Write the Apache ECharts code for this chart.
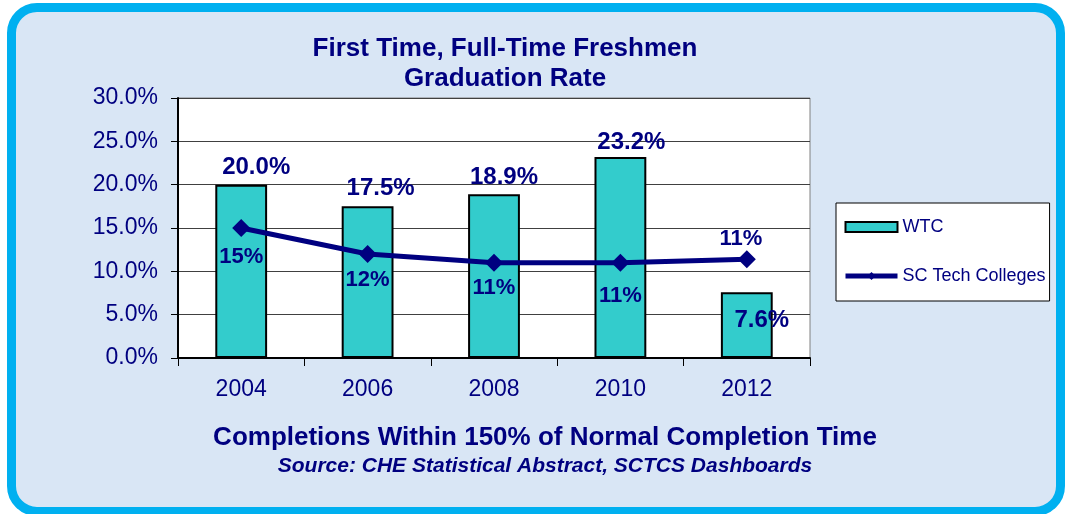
<!DOCTYPE html>
<html>
<head>
<meta charset="utf-8">
<script src="https://cdn.jsdelivr.net/npm/echarts@6/dist/echarts.min.js"></script>
<style>
  html, body { margin: 0; padding: 0; background: #ffffff; }
  #wrap { position: relative; width: 1065px; height: 514px; overflow: hidden; }
  #frame {
    position: absolute; left: 7px; top: 3px; width: 1040px; height: 495px;
    border: 9px solid #00b0f0; border-radius: 30px;
    background: #d9e6f5;
  }
  #chart { position: absolute; left: 0; top: 0; width: 1065px; height: 514px; }
</style>
</head>
<body>
<div id="wrap">
  <div id="frame"></div>
  <div id="chart"></div>
</div>
<script>
// 数据
const years = ['2004', '2006', '2008', '2010', '2012']
const wtcRates = [20.0, 17.5, 18.9, 23.2, 7.6]
const scTechRates = [15, 12, 11, 11, 11.4]
const yTicks = [0, 5, 10, 15, 20, 25, 30]

const navy = '#000080'
const fontFam = '"Liberation Sans", Arial, sans-serif'

const mChart = echarts.init(document.getElementById('chart'))

// label tweaks (Excel moved some labels by hand)
const barLabelOffset = [[15, 0], [13, -1], [10, 0], [11, 2], [15, 0]]
const lineLabelOffset = [[0, 4], [0, 1], [0, 0], [0, 8], [-6, 0]]

const barData = wtcRates.map((v, i) => {
    const item = { value: v, label: { offset: barLabelOffset[i] } }
    if (i === 4) {
        item.label = { position: 'insideTop', offset: [15, 11] }
    }
    return item
})

const lineData = scTechRates.map((v, i) => {
    const item = { value: v, label: { offset: lineLabelOffset[i] } }
    if (i === 4) {
        item.label = { position: 'top', distance: 0, offset: lineLabelOffset[i] }
    }
    return item
})

const options = {
    animation: false,
    textStyle: { fontFamily: fontFam },
    title: [
        {
            text: 'First Time, Full-Time Freshmen\nGraduation Rate',
            left: 500, top: 29, textAlign: 'center',
            textStyle: { fontSize: 26, fontWeight: 'bold', color: navy, lineHeight: 30, fontFamily: fontFam }
        },
        {
            text: 'Completions Within 150% of Normal Completion Time',
            subtext: 'Source: CHE Statistical Abstract, SCTCS Dashboards',
            left: 540, top: 419, textAlign: 'center', itemGap: 3,
            textStyle: { fontSize: 26, fontWeight: 'bold', color: navy, lineHeight: 28, fontFamily: fontFam },
            subtextStyle: { fontSize: 21, fontWeight: 'bold', fontStyle: 'italic', color: navy, lineHeight: 22, fontFamily: fontFam }
        }
    ],
    // 图例
    legend: {
        orient: 'vertical',
        left: 836, top: 203,
        padding: [14, 4, 15, 7],
        backgroundColor: '#ffffff',
        borderColor: '#000000',
        borderWidth: 1,
        itemWidth: 52,
        itemHeight: 10,
        itemGap: 29,
        itemTextGap: 4,
        textStyle: { fontSize: 18, color: navy, lineHeight: 20, fontFamily: fontFam },
        data: [
            { name: 'WTC', icon: 'rect' },
            { name: 'SC Tech Colleges', lineStyle: { width: 5 } }
        ]
    },
    grid: {
        left: 178, top: 98, right: 255, bottom: 156,
        show: true, backgroundColor: '#ffffff', borderColor: '#808080', borderWidth: 1
    },
    xAxis: {
        type: 'category',
        data: years,
        axisLine: { lineStyle: { color: '#000000', width: 2 } },
        axisTick: { show: true, length: 8, lineStyle: { color: '#000000' } },
        axisLabel: { fontSize: 23, color: navy, margin: 20, fontFamily: fontFam }
    },
    yAxis: {
        type: 'value',
        min: yTicks[0], max: yTicks[yTicks.length - 1], interval: 5,
        axisLine: { show: true, lineStyle: { color: '#000000', width: 2 } },
        axisTick: { show: true, length: 7, lineStyle: { color: '#000000' } },
        axisLabel: {
            fontSize: 23, color: navy, margin: 20, fontFamily: fontFam,
            formatter: (v) => v.toFixed(1) + '%'
        },
        splitLine: { lineStyle: { color: '#404040', width: 1 } }
    },
    series: [
        {
            name: 'WTC',
            type: 'bar',
            barWidth: '41%',
            data: barData,
            itemStyle: { color: '#33cccc', borderColor: '#000000', borderWidth: 2 },
            label: {
                show: true, position: 'top', distance: 5,
                fontSize: 24, fontWeight: 'bold', color: navy, fontFamily: fontFam,
                formatter: (p) => p.value.toFixed(1) + '%'
            },
            z: 2
        },
        {
            name: 'SC Tech Colleges',
            type: 'line',
            data: lineData,
            symbol: 'diamond',
            symbolSize: 18,
            lineStyle: { color: navy, width: 5 },
            itemStyle: { color: navy },
            label: {
                show: true, position: 'bottom', distance: 5,
                fontSize: 22, fontWeight: 'bold', color: navy, fontFamily: fontFam,
                formatter: (p) => Math.round(p.value) + '%'
            },
            z: 3
        }
    ]
}

mChart.setOption(options)
</script>
</body>
</html>
